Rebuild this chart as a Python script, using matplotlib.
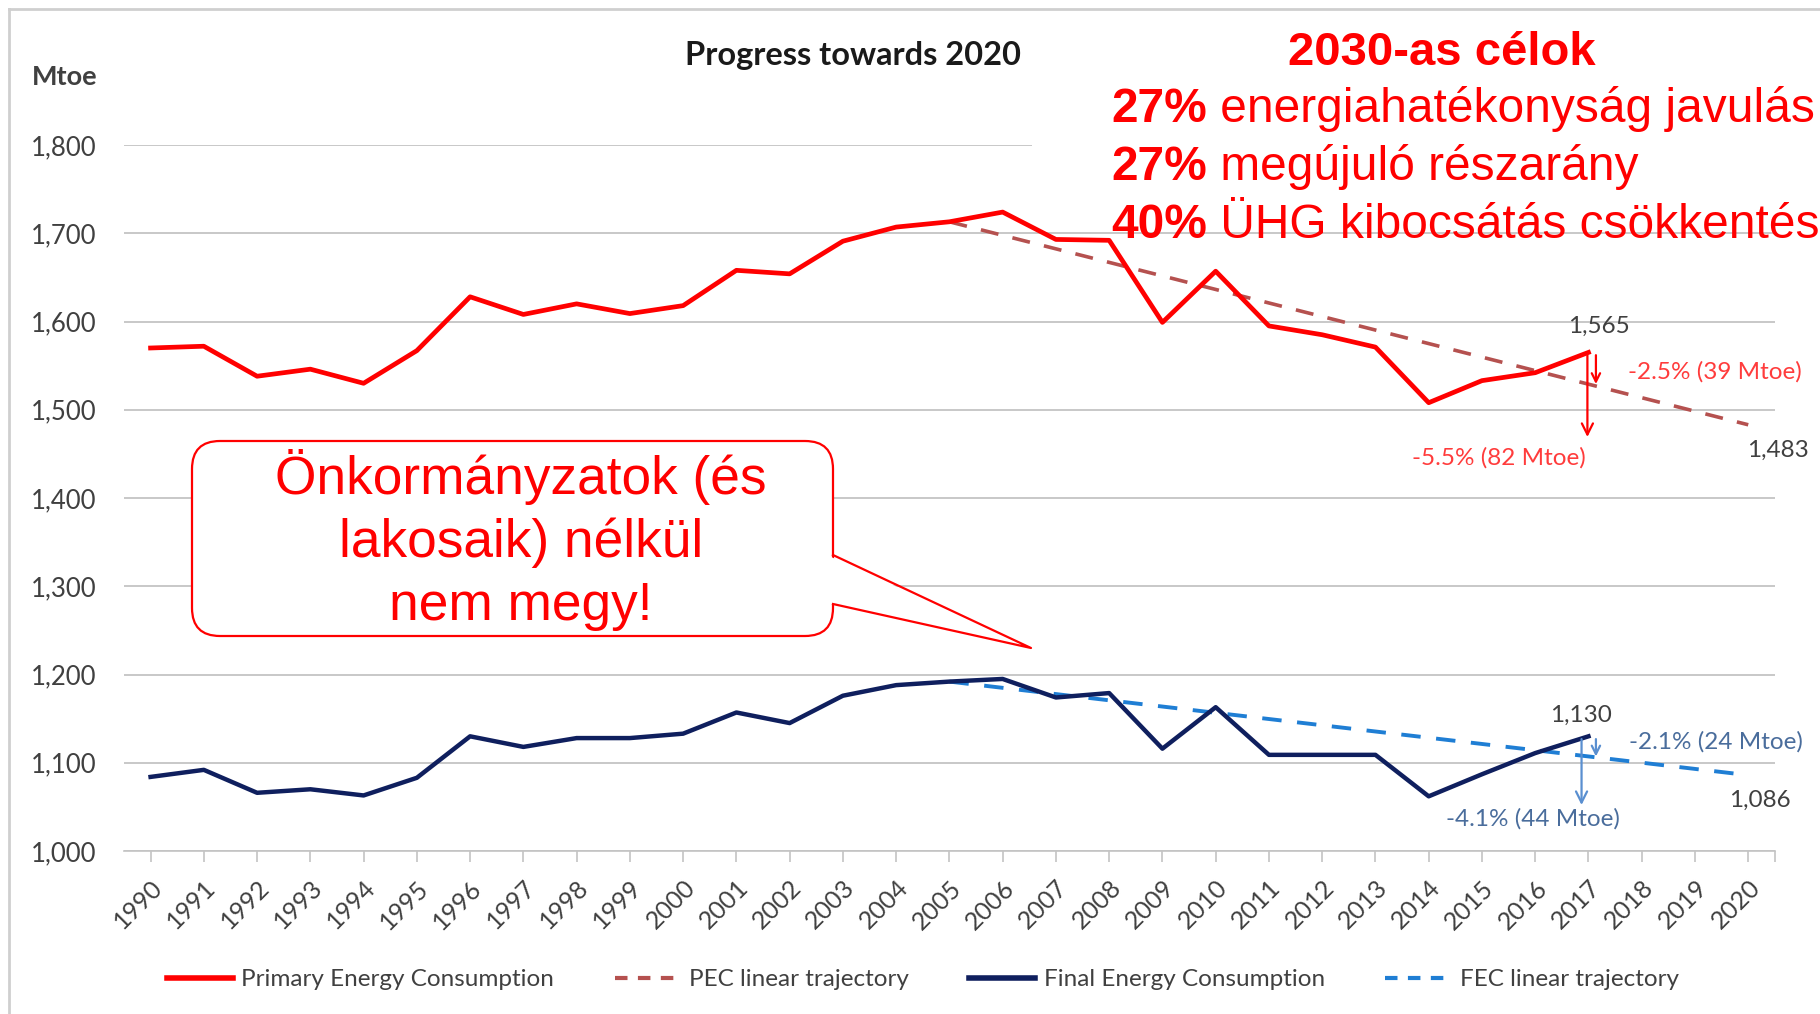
import matplotlib
matplotlib.use("Agg")
import matplotlib.pyplot as plt
from matplotlib.patches import FancyBboxPatch, Polygon, Rectangle
from matplotlib.lines import Line2D

# ---------------- data ----------------
years = [str(y) for y in range(1990, 2021)]
pec_years = list(range(1990, 2018))
pec = [1570, 1572, 1538, 1546, 1530, 1567, 1628, 1608, 1620, 1609, 1618, 1658,
       1654, 1691, 1707, 1713, 1724, 1693, 1692, 1599, 1657, 1595, 1585, 1571,
       1508, 1533, 1542, 1565]
fec = [1084, 1092, 1066, 1070, 1063, 1083, 1130, 1118, 1128, 1128, 1133, 1157,
       1145, 1176, 1188, 1192, 1195, 1174, 1179, 1116, 1163, 1109, 1109, 1109,
       1062, 1087, 1111, 1130]
traj_years = [2005, 2020]
pec_traj = [1713, 1483]
fec_traj = [1192, 1086]
yticks = [1000, 1100, 1200, 1300, 1400, 1500, 1600, 1700, 1800]
legend_labels = ["Primary Energy Consumption", "PEC linear trajectory",
                 "Final Energy Consumption", "FEC linear trajectory"]

# annotation values
pec_arrow_ends = [1526, 1466]
fec_arrow_ends = [1104, 1049]

# ---------------- style ----------------
FONT = ["Lato", "DejaVu Sans"]
ARIAL = ["Liberation Sans", "DejaVu Sans"]
RED = "#ff0000"
NAVY = "#0f1f5e"
PEC_DASH = "#b5514f"
FEC_DASH = "#1f7ed4"
GRID = "#c4c4c4"
TXT = "#404040"

fig = plt.figure(figsize=(18.2, 10.14), dpi=100)
ax = fig.add_axes([0.0681, 0.1607, 0.9071, 0.6963])

def xi(year):
    return year - 1990

ax.plot([xi(y) for y in pec_years], pec, color=RED, lw=3.4, zorder=4)
ax.plot([xi(y) for y in pec_years], fec, color=NAVY, lw=3.2, zorder=4)
ax.plot([xi(y) for y in traj_years], pec_traj, color=PEC_DASH, lw=2.6,
        dashes=(5, 4), zorder=3)
ax.plot([xi(y) for y in traj_years], fec_traj, color=FEC_DASH, lw=2.8,
        dashes=(5, 4), zorder=3)

ax.set_xlim(-0.5, 30.5)
ax.set_ylim(1000, 1800)
ax.set_yticks(yticks)
ax.set_yticklabels([f"{v:,}" for v in yticks], fontsize=18.5, color=TXT,
                   family=FONT)
ax.tick_params(axis="y", length=0, pad=20)
ax.set_xticks(range(len(years)))
ax.set_xticklabels(years, rotation=45, ha="right", rotation_mode="anchor",
                   fontsize=18, color=TXT, family=FONT)
ax.set_xticks([30.5], minor=True)
ax.tick_params(axis="x", which="both", length=8, color=GRID, width=1.2, pad=10)
for s in ["top", "right", "left"]:
    ax.spines[s].set_visible(False)
ax.spines["bottom"].set_color(GRID)
ax.spines["bottom"].set_linewidth(1.2)
ax.grid(axis="y", color=GRID, lw=1.3)
ax.set_axisbelow(True)

# arrows and labels on chart
x17 = xi(2017)
v_p = pec[-1]
v_f = fec[-1]
ax.annotate("", xy=(x17 + 0.14, pec_arrow_ends[0]), xytext=(x17 + 0.14, v_p),
            arrowprops=dict(arrowstyle="->,head_length=0.6,head_width=0.3",
                            color=RED, lw=1.6), zorder=6)
ax.annotate("", xy=(x17 - 0.02, pec_arrow_ends[1]), xytext=(x17 - 0.02, v_p),
            arrowprops=dict(arrowstyle="->,head_length=0.8,head_width=0.4",
                            color=RED, lw=1.6), zorder=6)
ax.annotate("", xy=(x17 + 0.14, fec_arrow_ends[0]), xytext=(x17 + 0.14, v_f),
            arrowprops=dict(arrowstyle="->,head_length=0.6,head_width=0.3",
                            color="#5a8fd0", lw=1.6), zorder=6)
ax.annotate("", xy=(x17 - 0.13, fec_arrow_ends[1]), xytext=(x17 - 0.13, v_f),
            arrowprops=dict(arrowstyle="->,head_length=0.8,head_width=0.4",
                            color="#5a8fd0", lw=1.6), zorder=6)

lab = dict(fontsize=17.5, family=FONT, ha="center", va="center")
ax.text(27.2, 1595, f"{pec[-1]:,}", color=TXT, **lab)
ax.text(29.37, 1543, "-2.5% (39 Mtoe)", color="#ff3c3c", **lab)
ax.text(25.31, 1446, "-5.5% (82 Mtoe)", color="#ff3c3c", **lab)
ax.text(30.56, 1454, f"{pec_traj[-1]:,}", color=TXT, clip_on=False, **lab)
ax.text(26.86, 1154, f"{fec[-1]:,}", color=TXT, **lab)
ax.text(29.39, 1124, "-2.1% (24 Mtoe)", color="#4a6d9c", **lab)
ax.text(25.96, 1036, "-4.1% (44 Mtoe)", color="#4a6d9c", **lab)
ax.text(30.22, 1057, f"{fec_traj[-1]:,}", color=TXT, clip_on=False, **lab)

# legend
handles = [Line2D([], [], color=RED, lw=4),
           Line2D([], [], color=PEC_DASH, lw=3, dashes=(3, 2.5)),
           Line2D([], [], color=NAVY, lw=4),
           Line2D([], [], color=FEC_DASH, lw=3, dashes=(3, 2.5))]
fig.legend(handles, legend_labels, loc="center", bbox_to_anchor=(0.507, 0.034),
           ncol=4, frameon=False, handlelength=2.7, handletextpad=0.35,
           columnspacing=2.5, prop=dict(family=FONT, size=17.5),
           labelcolor=TXT)

# ---------------- overlay (pixel coordinates) ----------------
ov = fig.add_axes([0, 0, 1, 1], zorder=5)
ov.set_xlim(0, 1820)
ov.set_ylim(1014, 0)
ov.axis("off")
ov.patch.set_alpha(0)

# frame
ov.plot([9, 9], [9, 1014], color="#cfcfcf", lw=2)
ov.plot([9, 1820], [9, 9], color="#cfcfcf", lw=2)

ov.text(32, 77, "Mtoe", fontsize=19.5, fontweight="bold", family=FONT,
        color=TXT, va="center", ha="left")
ov.text(685, 55, "Progress towards 2020", fontsize=23.5, fontweight="bold",
        family=FONT, color="#1a1a1a", va="center", ha="left")

# white area behind goal text
ov.add_patch(Rectangle((1032, 14), 790, 186, facecolor="white",
                       edgecolor="none", zorder=2))

ov.text(1442, 53, "2030-as célok", fontsize=34, fontweight="bold",
        family=ARIAL, color=RED, ha="center", va="center", zorder=3)
goal_lines = [("27%", " energiahatékonyság javulás"),
              ("27%", " megújuló részarány"),
              ("40%", " ÜHG kibocsátás csökkentés")]
for (b, r), y in zip(goal_lines, [110, 168, 226]):
    t = ov.text(1111, y, b, fontsize=34.5, fontweight="bold", family=ARIAL,
                color=RED, ha="left", va="center", zorder=3)
    ov.annotate(r, xy=(1, 0), xycoords=t, fontsize=34.5, family=ARIAL,
                color=RED, ha="left", va="bottom", zorder=3)

# callout
ov.add_patch(FancyBboxPatch((192, 441), 641, 195,
                            boxstyle="round,pad=0,rounding_size=28",
                            facecolor="white", edgecolor=RED, lw=1.6,
                            zorder=3))
ov.add_patch(Polygon([(829, 556), (1031, 648), (829, 604)], closed=True,
                     facecolor="white", edgecolor="none", zorder=4))
ov.plot([833, 1031, 833], [555, 648, 604], color=RED, lw=1.6, zorder=4)
ov.text(521, 540, "Önkormányzatok (és\nlakosaik) nélkül\nnem megy!",
        fontsize=38.3, family=ARIAL, color=RED, ha="center", va="center",
        linespacing=1.32, zorder=5)

fig.savefig("out.png", dpi=100, facecolor="white")
